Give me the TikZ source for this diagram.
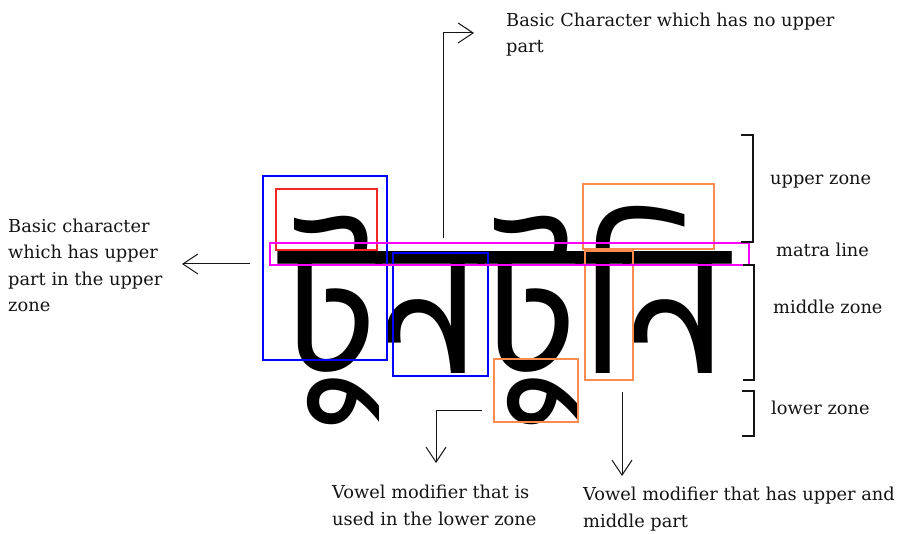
\documentclass[tikz,border=0pt]{standalone}
\usepackage{fontspec}
\setmainfont{DejaVu Serif}
\newfontfamily\bengfont[Script=Bengali]{Hind Siliguri}
\usetikzlibrary{arrows.meta}
\definecolor{boxblue}{RGB}{0,0,255}
\definecolor{boxred}{RGB}{240,40,40}
\definecolor{boxmag}{RGB}{255,0,255}
\definecolor{boxorange}{RGB}{250,140,80}
\definecolor{ink}{RGB}{20,20,20}
\begin{document}
\begin{tikzpicture}[x=1pt,y=-1pt,
  zonebox/.style={draw=#1, line width=1.3pt},
  lbl/.style={font=\fontsize{17.8}{26.5}\selectfont, inner sep=0pt, align=left, anchor=base west, text=ink},
  pointer/.style={draw=ink, line width=1pt, -{Straight Barb[length=15pt,width=20pt]}},
  bracket/.style={draw=ink, line width=1.2pt}]
\useasboundingbox (0,0) rectangle (913,534);

% the Bengali word
\node[anchor=base west, inner sep=0pt, font=\bengfont\fontsize{190}{190}\selectfont] (word) at (281,374) {\scalebox{0.95}[1]{টুনটুনি}};

% boxes marking the parts of the glyphs
\draw[zonebox=boxblue]   (263,176) rectangle (387,360);
\draw[zonebox=boxred]    (276,189) rectangle (377,250);
\draw[zonebox=boxblue]   (393,253) rectangle (488,376);
\draw[zonebox=boxorange] (494,359) rectangle (578,422);
\draw[zonebox=boxorange] (583,184) rectangle (714,249);
\draw[zonebox=boxorange] (585,251) rectangle (633,380);
\draw[zonebox=boxmag]    (270,243) rectangle (749,265);

% zone brackets
\draw[bracket] (741,135) -- (753,135) -- (753,242) -- (741,242);
\draw[bracket] (743,265) -- (754,265) -- (754,380) -- (743,380);
\draw[bracket] (742,391) -- (754,391) -- (754,436) -- (742,436);

% labels (anchored on the baseline of their last line)
\node[lbl] (upper)  at (770,185) {upper zone};
\node[lbl] (matra)  at (776,257) {matra line};
\node[lbl] (middle) at (773,314) {middle zone};
\node[lbl] (lower)  at (771,415) {lower zone};

\node[lbl] (basicup) at (8,312) {Basic character\\which has upper\\part in the upper\\zone};
\node[lbl] (basicno) at (506,53) {Basic Character which has no upper\\part};
\node[lbl] (vowlow)  at (332,525) {Vowel modifier that is\\used in the lower zone};
\node[lbl] (vowmid)  at (583,527) {Vowel modifier that has upper and\\middle part};

% pointers
\coordinate (p1s) at (250,264);
\coordinate (p1e) at (182,264);
\draw[pointer] (p1s) -- (p1e);

\coordinate (p2s) at (443,238);
\coordinate (p2e) at (474,33);
\draw[pointer] (p2s) |- (p2e);

\coordinate (p3s) at (482,411);
\coordinate (p3e) at (436,463);
\draw[pointer] (p3s) -| (p3e);

\coordinate (p4s) at (622,392);
\coordinate (p4e) at (622,476);
\draw[pointer] (p4s) -- (p4e);
\end{tikzpicture}
\end{document}
